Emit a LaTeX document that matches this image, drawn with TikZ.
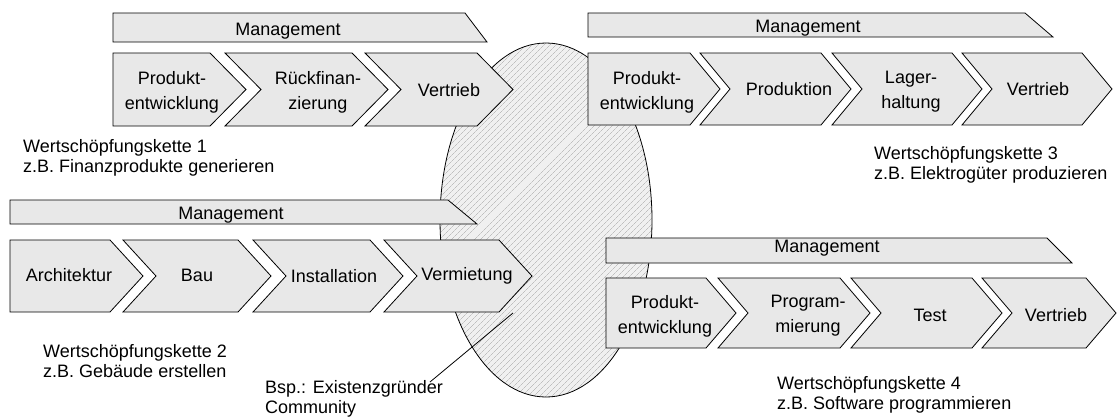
\documentclass[tikz,border=0pt]{standalone}
\usepackage{fontspec}
\setmainfont{Liberation Sans}
\usetikzlibrary{patterns.meta,shapes.geometric}
\definecolor{boxfill}{RGB}{232,232,232}
\definecolor{hatchbg}{RGB}{240,240,240}
\definecolor{hatchline}{RGB}{165,165,165}
\newcommand\chevfirst[5]{%
  \draw[shapebox] (#1,#3) -- (#2,#3) -- ({#2+#5},{(#3+#4)/2}) -- (#2,#4) -- (#1,#4) -- cycle;}
\newcommand\chevnext[5]{%
  \draw[shapebox] (#1,#3) -- (#2,#3) -- ({#2+#5},{(#3+#4)/2}) -- (#2,#4) -- (#1,#4) -- ({#1+#5},{(#3+#4)/2}) -- cycle;}
\newcommand\mgmtbar[5]{%
  \draw[shapebox] (#1,#4) -- (#2,#4) -- (#3,#5) -- (#1,#5) -- cycle;}
\begin{document}
\begin{tikzpicture}[x=1pt,y=-1pt,
  shapebox/.style={draw=black, line width=0.8pt, fill=boxfill, line join=miter},
  lbl/.style={font=\fontsize{18}{25}\selectfont, align=center, inner sep=0pt},
  caption/.style={font=\fontsize{18}{20}\selectfont, align=left, inner sep=0pt, anchor=west},
  community/.style={ellipse, draw=black, line width=0.8pt, preaction={fill=hatchbg},
    pattern={Lines[angle=45,distance=4pt,line width=0.45pt]}, pattern color=hatchline,
    minimum width=212pt, minimum height=354pt, inner sep=0pt},
  callout/.style={draw=black, line width=0.8pt}
]
\useasboundingbox (0,0) rectangle (1117,416);

% community ellipse
\node[community] (comm) at (546,220) {};

% ---- chain 1 ----
\mgmtbar{113}{465}{487}{13}{42}
\node[lbl] (m1) at (288,31.5) {Management};
\chevfirst{113}{210}{53}{126}{36}
\chevnext{225}{352}{53}{126}{36}
\chevnext{365}{477}{53}{126}{36}
\node[lbl] (c1a) at (172,92) {Produkt-\\entwicklung};
\node[lbl] (c1b) at (318,92) {Rückfinan-\\zierung};
\node[lbl] (c1c) at (449,90) {Vertrieb};
\node[caption] (k1) at (23,158) {Wertschöpfungskette 1\\z.B. Finanzprodukte generieren};

% ---- chain 3 ----
\mgmtbar{588}{1025}{1053}{13}{37}
\node[lbl] (m3) at (808,28.5) {Management};
\chevfirst{588}{690}{53}{125}{30}
\chevnext{700}{821}{53}{125}{30}
\chevnext{832}{952}{53}{125}{30}
\chevnext{962}{1082}{53}{125}{30}
\node[lbl] (c3a) at (647,92) {Produkt-\\entwicklung};
\node[lbl] (c3b) at (789,89) {Produktion};
\node[lbl] (c3c) at (911,92) {Lager-\\haltung};
\node[lbl] (c3d) at (1038,89) {Vertrieb};
\node[caption] (k3) at (874,165) {Wertschöpfungskette 3\\z.B. Elektrogüter produzieren};

% ---- chain 2 ----
\mgmtbar{10}{448}{477}{200}{224}
\node[lbl] (m2) at (231,215) {Management};
\chevfirst{10}{110}{240}{312}{33}
\chevnext{123}{238}{240}{312}{33}
\chevnext{253}{370}{240}{312}{33}
\chevnext{384}{499}{240}{312}{33}
\node[lbl] (c2a) at (69,275) {Architektur};
\node[lbl] (c2b) at (197,275) {Bau};
\node[lbl] (c2c) at (334,276) {Installation};
\node[lbl] (c2d) at (467,276) {Vermietung};
\node[caption] (k2) at (43,361) {Wertschöpfungskette 2\\z.B. Gebäude erstellen};

% ---- chain 4 ----
\mgmtbar{606}{1047}{1072}{238}{263}
\node[lbl] (m4) at (827,248.5) {Management};
\chevfirst{606}{706}{278}{348}{30}
\chevnext{718}{840}{278}{348}{30}
\chevnext{851}{972}{278}{348}{30}
\chevnext{982}{1086}{278}{348}{30}
\node[lbl] (c4a) at (665,316) {Produkt-\\entwicklung};
\node[lbl] (c4b) at (808,316) {Program-\\mierung};
\node[lbl] (c4c) at (930,315) {Test};
\node[lbl] (c4d) at (1056,315) {Vertrieb};
\node[caption] (k4) at (777,395) {Wertschöpfungskette 4\\z.B. Software programmieren};

% ---- community label + callout ----
\node[caption] (bsp) at (265,399) {Bsp.: Existenzgründer\\Community};
\coordinate (cin) at (513,313);
\coordinate (cend) at (430,382);
\draw[callout] (cin) -- (cend);
\end{tikzpicture}
\end{document}
